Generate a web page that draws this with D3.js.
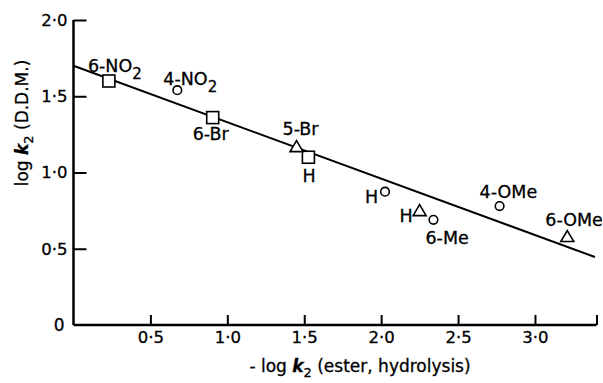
<!DOCTYPE html>
<html>
<head>
<meta charset="utf-8">
<script src="https://cdn.jsdelivr.net/npm/d3@7"></script>
<style>
  body { margin: 0; background: #fff; }
  svg text { font-family: "DejaVu Sans", sans-serif; fill: #000; stroke: #000; stroke-width: 0.3px; }
</style>
</head>
<body>
<svg width="603" height="383"></svg>
<script>
// Data
var squareX = [0.23, 0.905, 1.527];
var squareY = [1.60, 1.36, 1.10];
var circleX = [0.675, 2.025, 2.34, 2.77];
var circleY = [1.54, 0.874, 0.69, 0.78];
var triangleX = [1.45, 2.25, 3.21];
var triangleY = [1.17, 0.75, 0.58];

var lineIntercept = 1.70;
var lineSlope = -0.37;
var lineXRange = [0, 3.39];

var xTicks = [0.5, 1.0, 1.5, 2.0, 2.5, 3.0];
var yTicks = [0, 0.5, 1.0, 1.5, 2.0];

// Point labels: which series/index, text, subscript, pixel offset
var pointLabels = [
    { s: "sq", i: 0, text: "6-NO", sub: "2", dx: -21, dy: -9 },
    { s: "ci", i: 0, text: "4-NO", sub: "2", dx: -14, dy: -5 },
    { s: "sq", i: 1, text: "6-Br", dx: -20, dy: 22 },
    { s: "tr", i: 0, text: "5-Br", dx: -14, dy: -12 },
    { s: "sq", i: 2, text: "H", dx: -6, dy: 25 },
    { s: "ci", i: 1, text: "H", dx: -20, dy: 11 },
    { s: "tr", i: 1, text: "H", dx: -20, dy: 11 },
    { s: "ci", i: 2, text: "6-Me", dx: -8, dy: 24 },
    { s: "ci", i: 3, text: "4-OMe", dx: -20, dy: -8 },
    { s: "tr", i: 2, text: "6-OMe", dx: -22, dy: -11 }
];

var svg = d3.select("svg");

var x = d3.scaleLinear().domain([0, 3.4]).range([73.5, 596.5]);
var y = d3.scaleLinear().domain([0, 2.0]).range([325, 20]);

var fmt = d => d === 0 ? "0" : d3.format(".1f")(d).replace(".", "\u00b7");

// Axes
var xAxis = svg.append("g")
    .attr("transform", `translate(0,${y(0)})`)
    .call(d3.axisBottom(x).tickValues(xTicks.concat([3.4])).tickSize(-10).tickPadding(6)
        .tickFormat(d => d === 3.4 ? "" : fmt(d)));

var yAxis = svg.append("g")
    .attr("transform", `translate(${x(0)},0)`)
    .call(d3.axisLeft(y).tickValues(yTicks.slice(1)).tickSize(-13).tickPadding(6).tickFormat(fmt));

yAxis.append("text")
    .attr("x", -9).attr("y", y(0) + 6)
    .attr("text-anchor", "end")
    .style("font-size", "17px")
    .text("0");

[xAxis, yAxis].forEach(g => {
    g.select(".domain").attr("stroke", "#000").attr("stroke-width", 2.5);
    g.selectAll(".tick line").attr("stroke", "#000").attr("stroke-width", 2);
    g.selectAll(".tick text").style("font-size", "16.5px").attr("fill", "#000");
});
xAxis.select(".domain").attr("d", `M${x(0)},0H${x(3.4)}`);
yAxis.select(".domain").attr("d", `M0,${y(2.0)}V${y(0)}`);

// Regression line
svg.append("line")
    .attr("x1", x(lineXRange[0])).attr("y1", y(lineIntercept + lineSlope * lineXRange[0]))
    .attr("x2", x(lineXRange[1])).attr("y2", y(lineIntercept + lineSlope * lineXRange[1]))
    .attr("stroke", "#000").attr("stroke-width", 2);

// Markers
var squares = squareX.map((v, i) => ({ x: v, y: squareY[i] }));
var circles = circleX.map((v, i) => ({ x: v, y: circleY[i] }));
var triangles = triangleX.map((v, i) => ({ x: v, y: triangleY[i] }));

svg.append("g").selectAll("rect").data(squares).enter().append("rect")
    .attr("x", d => x(d.x) - 6).attr("y", d => y(d.y) - 6)
    .attr("width", 12).attr("height", 12)
    .attr("fill", "#fff").attr("stroke", "#000").attr("stroke-width", 1.6);

svg.append("g").selectAll("circle").data(circles).enter().append("circle")
    .attr("cx", d => x(d.x)).attr("cy", d => y(d.y)).attr("r", 4.3)
    .attr("fill", "#fff").attr("stroke", "#000").attr("stroke-width", 1.6);

svg.append("g").selectAll("path").data(triangles).enter().append("path")
    .attr("d", d => `M${x(d.x)},${y(d.y) - 6}L${x(d.x) + 6.5},${y(d.y) + 5}L${x(d.x) - 6.5},${y(d.y) + 5}Z`)
    .attr("fill", "#fff").attr("stroke", "#000").attr("stroke-width", 1.6);

// Point labels
var seriesOf = { sq: squares, ci: circles, tr: triangles };
pointLabels.forEach(l => {
    var p = seriesOf[l.s][l.i];
    var t = svg.append("text")
        .attr("x", x(p.x) + l.dx).attr("y", y(p.y) + l.dy)
        .style("font-size", "17.5px")
        .text(l.text);
    if (l.sub) {
        t.append("tspan").attr("dy", 7).style("font-size", "15px").text(l.sub);
    }
});

// Axis titles
var xt = svg.append("text")
    .attr("x", 360).attr("y", 372)
    .attr("text-anchor", "middle")
    .style("font-size", "17px");
xt.append("tspan").text("- log ");
xt.append("tspan").style("font-style", "italic").style("font-weight", "bold").text("k");
xt.append("tspan").attr("dy", 5).style("font-size", "13px").text("2");
xt.append("tspan").attr("dy", -5).text(" (ester, hydrolysis)");

var yt = svg.append("text")
    .attr("transform", "translate(28,123) rotate(-90)")
    .attr("text-anchor", "middle")
    .style("font-size", "17px");
yt.append("tspan").text("log ");
yt.append("tspan").style("font-style", "italic").style("font-weight", "bold").text("k");
yt.append("tspan").attr("dy", 5).style("font-size", "13px").text("2");
yt.append("tspan").attr("dy", -5).text(" (D.D.M.)");
</script>
</body>
</html>
